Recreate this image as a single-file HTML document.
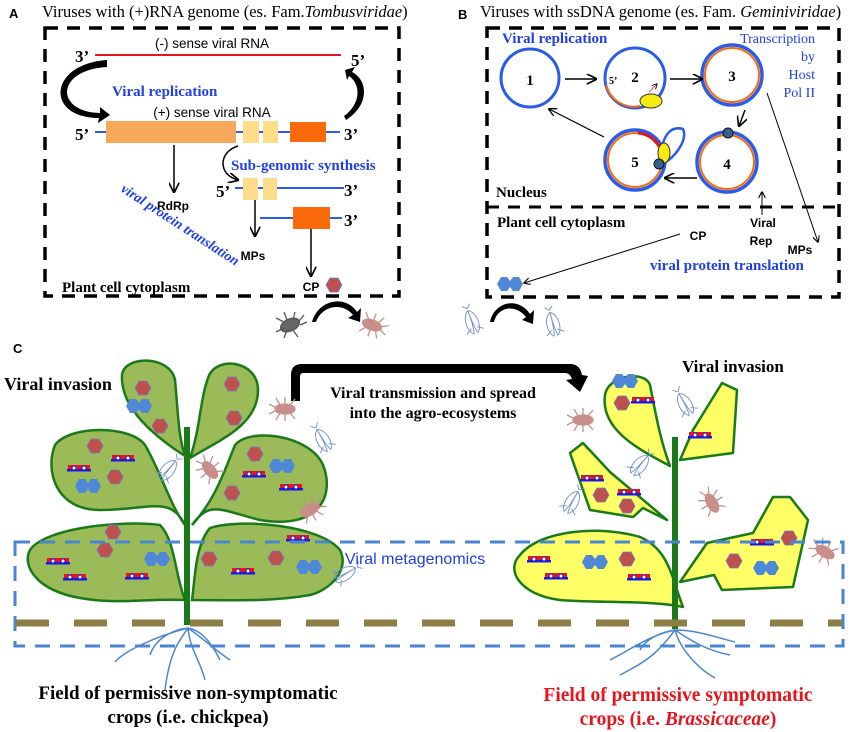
<!DOCTYPE html>
<html><head><meta charset="utf-8"><style>
html,body{margin:0;padding:0;background:#fff;}
svg{display:block;}
.ser{font-family:"Liberation Serif",serif;}
.san{font-family:"Liberation Sans",sans-serif;}
</style></head><body>
<svg width="851" height="732" viewBox="0 0 851 732" xmlns="http://www.w3.org/2000/svg">
<defs>
<marker id="ah" viewBox="0 0 10 10" refX="9" refY="5" markerWidth="7" markerHeight="7" orient="auto"><path d="M0,0 L10,5 L0,10" fill="none" stroke="#000" stroke-width="1.6"/></marker>
<g id="hx"><polygon points="-8,0 -4,-7 4,-7 8,0 4,7 -4,7" fill="#c0504d" stroke="#6a7fc0" stroke-width="0.8"/></g>
<g id="dh"><polygon points="-13,0 -9,-7 -3,-7 0,-3 3,-7 9,-7 13,0 9,7 3,7 0,3 -3,7 -9,7" fill="#4f88d6"/></g>
<g id="car"><rect x="-11" y="-3" width="22" height="4" fill="#e8141c"/><rect x="-12" y="1" width="24" height="2.5" fill="#1a1ae0"/><circle cx="-5" cy="0" r="2" fill="#fff" stroke="#1a1ae0" stroke-width="1"/><circle cx="5" cy="0" r="2" fill="#fff" stroke="#1a1ae0" stroke-width="1"/></g>
<g id="mite" fill="none" stroke="#c98e8a" stroke-width="1.3"><ellipse cx="0" cy="0" rx="10" ry="5" fill="#c98e8a"/><path d="M-5,-4 l-5,-6 M0,-4 l0,-8 M5,-4 l4,-7 M-5,4 l-5,6 M0,4 l0,8 M5,4 l4,7 M10,-2 l6,-3 M10,2 l6,3"/></g>
<g id="fly" fill="none" stroke="#6f8fc8" stroke-width="0.9"><path d="M0,-12 C-8,-8 -8,8 -2,12 C0,6 0,-6 0,-12 z M0,-12 C8,-8 8,8 2,12 C0,6 0,-6 0,-12 z M0,-14 l-4,-4 M0,-14 l4,-4 M-3,6 l-6,4 M3,6 l6,4"/></g>
</defs>

<!-- ================= PANEL A ================= -->
<text x="9" y="18" class="san" font-weight="bold" font-size="13">A</text>
<text x="42" y="17" class="ser" font-size="16.5">Viruses with (+)RNA genome (es. Fam.<tspan font-style="italic">Tombusviridae</tspan>)</text>
<rect x="45" y="28" width="354" height="268" fill="none" stroke="#000" stroke-width="3.5" stroke-dasharray="13,9"/>
<text x="212" y="48" class="san" font-size="13.5" text-anchor="middle">(-) sense viral RNA</text>
<line x1="95" y1="55" x2="341" y2="55" stroke="#e8141c" stroke-width="2"/>
<text x="75" y="62" class="ser" font-weight="bold" font-size="17">3’</text>
<text x="351" y="66" class="ser" font-weight="bold" font-size="17">5’</text>
<path d="M107,67 C55,70 55,112 100,113 L100,107 L110,115 L98,123 L99,118 C45,118 48,64 107,60 Z" fill="#000"/>
<path d="M346,120 C370,105 368,80 352,72 L355,67 L345,70 L347,80 L349,76 C362,85 360,105 344,116 Z" fill="#000"/>
<text x="112" y="96" class="ser" font-weight="bold" font-size="15" fill="#1f3fe8">Viral replication</text>
<text x="212" y="117" class="san" font-size="13.5" text-anchor="middle">(+) sense viral RNA</text>
<line x1="95" y1="132" x2="340" y2="132" stroke="#2a5ce8" stroke-width="2"/>
<rect x="106" y="121" width="130" height="22" fill="#f7a95a"/>
<rect x="243" y="121" width="16" height="22" fill="#fddc8a"/>
<rect x="263" y="121" width="15" height="22" fill="#fddc8a"/>
<rect x="290" y="122" width="36" height="20" fill="#fb6a0a"/>
<text x="75" y="140" class="ser" font-weight="bold" font-size="17">5’</text>
<text x="344" y="140" class="ser" font-weight="bold" font-size="17">3’</text>
<line x1="174" y1="145" x2="174" y2="192" stroke="#000" stroke-width="1.5" marker-end="url(#ah)"/>
<text x="173" y="210" class="san" font-weight="bold" font-size="12" text-anchor="middle">RdRp</text>
<path d="M238,146 C218,152 218,175 238,180" fill="none" stroke="#000" stroke-width="1.5" marker-end="url(#ah)"/>
<text x="231" y="170" class="ser" font-weight="bold" font-size="15" fill="#1f3fe8">Sub-genomic synthesis</text>
<line x1="235" y1="188" x2="344" y2="188" stroke="#2a5ce8" stroke-width="2"/>
<rect x="243" y="178" width="15" height="22" fill="#fddc8a"/>
<rect x="263" y="178" width="14" height="22" fill="#fddc8a"/>
<text x="216" y="197" class="ser" font-weight="bold" font-size="17">5’</text>
<text x="344" y="196" class="ser" font-weight="bold" font-size="17">3’</text>
<line x1="260" y1="218" x2="342" y2="218" stroke="#2a5ce8" stroke-width="2"/>
<rect x="293" y="207" width="37" height="22" fill="#fb6a0a"/>
<text x="344" y="226" class="ser" font-weight="bold" font-size="17">3’</text>
<line x1="255" y1="200" x2="255" y2="236" stroke="#000" stroke-width="1.5" marker-end="url(#ah)"/>
<text x="253" y="260" class="san" font-weight="bold" font-size="12" text-anchor="middle">MPs</text>
<line x1="311" y1="229" x2="311" y2="276" stroke="#000" stroke-width="1.5" marker-end="url(#ah)"/>
<text x="311" y="291" class="san" font-weight="bold" font-size="12" text-anchor="middle">CP</text>
<use href="#hx" x="334" y="285"/>
<text x="0" y="0" class="ser" font-weight="bold" font-style="italic" font-size="14" fill="#1f3fe8" transform="translate(120,191) rotate(33)">viral protein translation</text>
<text x="62" y="292" class="ser" font-weight="bold" font-size="15">Plant cell cytoplasm</text>
<g transform="translate(290,325)"><g fill="none" stroke="#555" stroke-width="1.3"><ellipse cx="0" cy="0" rx="10" ry="6" fill="#666" transform="rotate(-25)"/><path d="M-6,-3 l-8,-4 M-3,-5 l-3,-8 M3,-5 l2,-8 M-6,3 l-8,4 M-3,5 l-3,8 M3,5 l5,7 M9,-4 l5,-6 M10,0 l7,-3"/></g></g>
<g transform="translate(372,325) rotate(20)"><use href="#mite"/></g>
<path d="M312,322 C318,300 345,294 357,312 L361,308 L360,322 L348,318 L353,315 C343,302 322,305 316,322 Z" fill="#000"/>

<!-- ================= PANEL B ================= -->
<text x="458" y="19" class="san" font-weight="bold" font-size="13">B</text>
<text x="480" y="17" class="ser" font-size="16.5">Viruses with ssDNA genome (es. Fam. <tspan font-style="italic">Geminiviridae</tspan>)</text>
<rect x="487" y="28" width="352" height="269" fill="none" stroke="#000" stroke-width="3.5" stroke-dasharray="13,9"/>
<line x1="487" y1="207" x2="839" y2="207" stroke="#000" stroke-width="3" stroke-dasharray="12,9"/>
<text x="502" y="43" class="ser" font-weight="bold" font-size="15" fill="#1f3fe8">Viral replication</text>
<g class="ser" font-size="14" fill="#1f3fe8" text-anchor="end"><text x="815" y="43">Transcription</text><text x="815" y="61">by</text><text x="815" y="79">Host</text><text x="815" y="97">Pol II</text></g>
<circle cx="530" cy="78" r="29" fill="none" stroke="#2a5ce8" stroke-width="3"/>
<text x="530" y="85" class="ser" font-weight="bold" font-size="15" text-anchor="middle">1</text>
<circle cx="635" cy="78" r="30" fill="none" stroke="#2a5ce8" stroke-width="3"/>
<path d="M606,85 A29,29 0 0 0 640,106" fill="none" stroke="#fb6a0a" stroke-width="2"/>
<ellipse cx="651" cy="101" rx="11" ry="7" fill="#f5eb10" stroke="#333" stroke-width="1"/>
<text x="635" y="82" class="ser" font-weight="bold" font-size="15" text-anchor="middle">2</text>
<text x="609" y="84" class="ser" font-weight="bold" font-size="10">5’</text>
<path d="M649,92 L657,84" stroke="#e8141c" stroke-width="0.8" marker-end="url(#ah)"/>
<circle cx="732" cy="75" r="30" fill="none" stroke="#2a5ce8" stroke-width="3.5"/>
<circle cx="732" cy="75" r="27" fill="none" stroke="#fb6a0a" stroke-width="2"/>
<text x="732" y="81" class="ser" font-weight="bold" font-size="15" text-anchor="middle">3</text>
<circle cx="727" cy="162" r="30" fill="none" stroke="#2a5ce8" stroke-width="3.5"/>
<circle cx="727" cy="162" r="27" fill="none" stroke="#fb6a0a" stroke-width="2"/>
<circle cx="728" cy="133" r="5" fill="#3a6090" stroke="#111" stroke-width="1"/>
<text x="727" y="169" class="ser" font-weight="bold" font-size="15" text-anchor="middle">4</text>
<circle cx="635" cy="160" r="30" fill="none" stroke="#2a5ce8" stroke-width="3.5"/>
<circle cx="635" cy="160" r="27" fill="none" stroke="#fb6a0a" stroke-width="2"/>
<path d="M638,133 A27,27 0 0 1 659,146" fill="none" stroke="#e8141c" stroke-width="3"/>
<path d="M662,147 C665,133 672,126 683,129 C688,140 675,158 662,164" fill="none" stroke="#2a5ce8" stroke-width="2.5"/>
<ellipse cx="664" cy="153" rx="6" ry="10" fill="#f5eb10" stroke="#333" stroke-width="1"/>
<circle cx="659" cy="164" r="5" fill="#3a6090" stroke="#111" stroke-width="1"/>
<text x="635" y="167" class="ser" font-weight="bold" font-size="15" text-anchor="middle">5</text>
<line x1="565" y1="79" x2="596" y2="79" stroke="#000" stroke-width="1.5" marker-end="url(#ah)"/>
<line x1="670" y1="79" x2="702" y2="79" stroke="#000" stroke-width="1.5" marker-end="url(#ah)"/>
<line x1="745" y1="110" x2="739" y2="126" stroke="#000" stroke-width="1.5" marker-end="url(#ah)"/>
<line x1="697" y1="178" x2="665" y2="178" stroke="#000" stroke-width="1.5" marker-end="url(#ah)"/>
<line x1="604" y1="137" x2="549" y2="109" stroke="#000" stroke-width="1.2" marker-end="url(#ah)"/>
<line x1="767" y1="93" x2="818" y2="242" stroke="#000" stroke-width="1" marker-end="url(#ah)"/>
<line x1="762" y1="215" x2="762" y2="192" stroke="#000" stroke-width="1" marker-end="url(#ah)"/>
<line x1="680" y1="234" x2="524" y2="283" stroke="#000" stroke-width="1" marker-end="url(#ah)"/>
<text x="496" y="197" class="ser" font-weight="bold" font-size="15">Nucleus</text>
<text x="497" y="227" class="ser" font-weight="bold" font-size="15">Plant cell cytoplasm</text>
<text x="698" y="240" class="san" font-weight="bold" font-size="12" text-anchor="middle">CP</text>
<text x="763" y="227" class="san" font-weight="bold" font-size="12" text-anchor="middle">Viral</text>
<text x="761" y="245" class="san" font-weight="bold" font-size="12" text-anchor="middle">Rep</text>
<text x="800" y="254" class="san" font-weight="bold" font-size="12" text-anchor="middle">MPs</text>
<text x="650" y="270" class="ser" font-weight="bold" font-size="15" fill="#1f3fe8">viral protein translation</text>
<use href="#dh" x="510" y="284"/>
<g transform="translate(472,322) rotate(-20)"><use href="#fly" style="stroke:#333"/></g>
<g transform="translate(553,324) rotate(-15)"><use href="#fly"/></g>
<path d="M490,322 C494,302 518,296 530,314 L534,310 L533,324 L522,320 L526,317 C516,304 498,306 494,322 Z" fill="#000"/>

<!-- ================= PANEL C ================= -->
<text x="13" y="353" class="san" font-weight="bold" font-size="13">C</text>
<text x="4" y="390" class="ser" font-weight="bold" font-size="18">Viral invasion</text>
<text x="682" y="372" class="ser" font-weight="bold" font-size="17">Viral invasion</text>
<path d="M291,401 L291,375 Q291,364 302,364 L570,364 Q580,364 582,375 L588,376 L580,392 L566,380 L572,379 Q570,373 565,373 L303,373 Q300,373 300,377 L300,401 Z" fill="#000"/>
<text x="433" y="398" class="ser" font-weight="bold" font-size="16" text-anchor="middle">Viral transmission and spread</text>
<text x="433" y="418" class="ser" font-weight="bold" font-size="16" text-anchor="middle">into the agro-ecosystems</text>

<g fill="#9bbb59" stroke="#1a7a1a" stroke-width="2.5">
<path d="M185,456 C160,440 120,410 122,375 C124,355 170,355 175,380 C178,410 178,435 185,456 Z"/>
<path d="M190,458 C200,430 200,400 208,378 C215,355 258,360 258,390 C258,425 220,440 190,458 Z"/>
<path d="M185,525 C170,495 150,510 100,510 C55,510 45,470 55,445 C70,425 130,425 145,445 C160,470 170,505 185,525 Z"/>
<path d="M192,525 C210,500 220,510 260,520 C320,530 335,495 323,465 C310,435 250,427 235,445 C225,470 215,500 192,525 Z"/>
<path d="M185,600 C150,598 120,605 80,598 C35,590 22,565 30,550 C45,528 120,520 160,525 C175,540 175,575 185,600 Z"/>
<path d="M192,600 C195,580 195,545 210,528 C240,518 320,525 340,550 C350,570 330,590 310,595 C270,602 230,600 192,600 Z"/>
</g>
<rect x="184" y="427" width="6" height="198" fill="#1a7a1a"/>
<use href="#hx" x="143" y="388"/><use href="#dh" x="139" y="406"/><use href="#hx" x="160" y="426"/>
<use href="#hx" x="232" y="384"/><use href="#hx" x="234" y="418"/>
<use href="#hx" x="95" y="446"/><use href="#car" x="123" y="458"/><use href="#car" x="79" y="468"/><use href="#hx" x="115" y="477"/><use href="#dh" x="88" y="486"/>
<use href="#hx" x="255" y="454"/><use href="#dh" x="282" y="466"/><use href="#car" x="254" y="474"/><use href="#hx" x="232" y="493"/><use href="#car" x="291" y="487"/>
<use href="#hx" x="113" y="532"/><use href="#hx" x="105" y="550"/><use href="#dh" x="157" y="559"/><use href="#car" x="58" y="561"/><use href="#car" x="75" y="577"/><use href="#car" x="137" y="576"/>
<use href="#hx" x="209" y="559"/><use href="#car" x="298" y="538"/><use href="#hx" x="276" y="558"/><use href="#dh" x="309" y="567"/><use href="#car" x="243" y="571"/>
<g transform="translate(285,409) rotate(180)"><use href="#mite"/></g>
<g transform="translate(210,470) rotate(-130)"><use href="#mite"/></g>
<g transform="translate(310,510) rotate(-30)"><use href="#mite"/></g>
<g transform="translate(323,440) rotate(-30)"><use href="#fly"/></g>
<g transform="translate(168,470) rotate(40)"><use href="#fly"/></g>
<g transform="translate(345,574) rotate(60)"><use href="#fly"/></g>

<g fill="#ffff66" stroke="#1a7a1a" stroke-width="2.5" stroke-linejoin="round">
<path d="M670,466 C640,450 600,430 605,395 C608,375 645,370 650,385 C655,410 660,440 670,466 Z"/>
<polygon points="680,460 693,430 722,383 737,390 733,453"/>
<polygon points="570,453 583,443 610,472 667,520 643,508 633,517 590,510"/>
<path d="M683,607 C650,600 590,603 560,600 C520,595 505,570 520,555 C540,530 600,525 640,537 C670,550 672,580 683,607 Z"/>
<polygon points="680,582 707,543 753,533 773,497 790,497 808,520 793,587 722,590 714,575"/>
</g>
<rect x="672" y="437" width="6" height="192" fill="#1a7a1a"/>
<use href="#dh" x="625" y="381"/><use href="#hx" x="622" y="403"/><use href="#car" x="643" y="400"/>
<use href="#car" x="700" y="435"/>
<use href="#car" x="592" y="478"/><use href="#hx" x="601" y="495"/><use href="#car" x="629" y="492"/><use href="#hx" x="627" y="506"/>
<use href="#car" x="539" y="559"/><use href="#dh" x="595" y="562"/><use href="#hx" x="627" y="559"/><use href="#car" x="556" y="576"/><use href="#car" x="639" y="577"/>
<use href="#car" x="762" y="542"/><use href="#hx" x="789" y="538"/><use href="#hx" x="734" y="561"/><use href="#dh" x="766" y="568"/>
<g transform="translate(583,420) rotate(180)"><use href="#mite"/></g>
<g transform="translate(712,503) rotate(-120)"><use href="#mite"/></g>
<g transform="translate(825,552) rotate(-150)"><use href="#mite"/></g>
<g transform="translate(685,404) rotate(-30)"><use href="#fly"/></g>
<g transform="translate(640,465) rotate(40)"><use href="#fly"/></g>
<g transform="translate(572,502) rotate(30)"><use href="#fly"/></g>

<rect x="15" y="542" width="828" height="104" fill="none" stroke="#4a86d0" stroke-width="3" stroke-dasharray="15,10"/>
<line x1="16" y1="623" x2="842" y2="623" stroke="#8c7e44" stroke-width="7" stroke-dasharray="33,25"/>
<text x="345" y="564" class="san" font-size="16" fill="#1f3fe8">Viral metagenomics</text>

<g fill="none" stroke="#4a86d0" stroke-width="1.5">
<path d="M188,628 C170,630 155,640 150,655 M188,628 C160,635 125,650 115,662 M188,628 C180,640 170,650 165,690 M188,628 C205,640 215,650 230,660 M188,628 C190,650 200,660 205,680 M188,628 C200,630 210,640 220,660"/>
<path d="M675,630 C660,632 645,640 640,650 M675,630 C650,635 630,650 610,660 M675,630 C660,650 650,660 620,675 M675,630 C690,640 705,650 730,655 M675,630 C680,650 700,670 715,678 M675,630 C695,630 712,636 735,642"/>
</g>
<text x="188" y="699" class="ser" font-weight="bold" font-size="19" text-anchor="middle">Field of permissive non-symptomatic</text>
<text x="188" y="723" class="ser" font-weight="bold" font-size="19" text-anchor="middle">crops (i.e. chickpea)</text>
<text x="678" y="701" class="ser" font-weight="bold" font-size="19.5" fill="#e8141c" text-anchor="middle">Field of permissive symptomatic</text>
<text x="678" y="725" class="ser" font-weight="bold" font-size="19.5" fill="#e8141c" text-anchor="middle">crops (i.e. <tspan font-style="italic">Brassicaceae</tspan>)</text>
</svg>
</body></html>
